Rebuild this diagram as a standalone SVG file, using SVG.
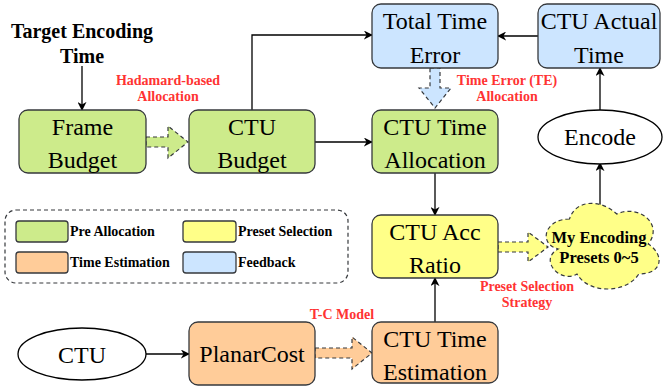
<svg xmlns="http://www.w3.org/2000/svg" width="663" height="392" viewBox="0 0 663 392">
<defs>
<marker id="arr" viewBox="0 0 10 10" refX="9" refY="5" markerWidth="9" markerHeight="9" markerUnits="userSpaceOnUse" orient="auto">
<path d="M0,0 L10,5 L0,10 L3,5 Z" fill="#000"/>
</marker>
</defs>
<style>
text{font-family:'Liberation Serif','DejaVu Serif',serif}
.box{stroke:#36393d;stroke-width:1.3}
.g{fill:#cdeb8b}.b{fill:#cce5ff}.y{fill:#ffff88}.o{fill:#ffcc99}
.n{font-size:24px;fill:#000;text-anchor:middle}
.lbl{font-size:14px;font-weight:bold;fill:#ff3333;text-anchor:middle}
.lg{font-size:14px;font-weight:bold;fill:#000}
.t{font-size:20px;font-weight:bold;fill:#000;text-anchor:middle}
.cl{font-size:16.5px;font-weight:bold;fill:#000;text-anchor:middle}
.blk{stroke:#36393d;stroke-width:1.2;stroke-dasharray:4 3}
.c{fill:none;stroke:#000;stroke-width:1.3;marker-end:url(#arr)}
</style>
<rect width="663" height="392" fill="#fff"/>

<g id="legend">
<rect x="5" y="210" width="343" height="73" rx="11" fill="none" stroke="#36393d" stroke-width="1.2" stroke-dasharray="4 3"/>
<rect class="box g" x="16" y="221" width="52" height="21" rx="3"/>
<text class="lg" x="70" y="236">Pre Allocation</text>
<rect class="box y" x="183" y="221" width="53" height="21" rx="3"/>
<text class="lg" x="238" y="236">Preset Selection</text>
<rect class="box o" x="16" y="252" width="52" height="21" rx="3"/>
<text class="lg" x="70" y="267">Time Estimation</text>
<rect class="box b" x="183" y="252" width="53" height="21" rx="3"/>
<text class="lg" x="238" y="267">Feedback</text>
</g>

<g id="connectors">
<line class="c" x1="82" y1="66" x2="82" y2="110"/>
<polyline class="c" points="252,110 252,35 372,35"/>
<line class="c" x1="315" y1="142" x2="372" y2="142"/>
<line class="c" x1="538" y1="36" x2="498" y2="36"/>
<line class="c" x1="435" y1="173" x2="435" y2="215"/>
<line class="c" x1="435" y1="322" x2="435" y2="278"/>
<line class="c" x1="146" y1="354" x2="189" y2="354"/>
<line class="c" x1="600" y1="110" x2="600" y2="68"/>
<line class="c" x1="600" y1="205" x2="600" y2="163"/>
<polygon class="blk g" points="146,137 168,137 168,126 188,142 168,158 168,147 146,147"/>
<polygon class="blk b" points="430,68 440,68 440,88 451,88 435,108 419,88 430,88"/>
<polygon class="blk y" points="498,242 528,242 528,232 548,247 528,262 528,252 498,252"/>
<polygon class="blk o" points="315,348 352,348 352,337 372,353 352,369 352,358 315,358"/>
<text class="lbl" x="168" y="85">Hadamard-based</text>
<text class="lbl" x="168" y="101">Allocation</text>
<text class="lbl" x="507" y="85">Time Error (TE)</text>
<text class="lbl" x="507" y="101">Allocation</text>
<text class="lbl" x="527" y="291">Preset Selection</text>
<text class="lbl" x="527" y="307">Strategy</text>
<text class="lbl" x="342" y="319">T-C Model</text>
</g>

<g id="target">
<text class="t" x="82" y="38">Target Encoding</text>
<text class="t" x="82" y="63">Time</text>
</g>

<g id="frame-budget">
<rect class="box g" x="19" y="110" width="127" height="63" rx="9"/>
<text class="n" x="82.5" y="135">Frame</text>
<text class="n" x="82.5" y="168">Budget</text>
</g>
<g id="ctu-budget">
<rect class="box g" x="189" y="110" width="126" height="63" rx="9"/>
<text class="n" x="252" y="135">CTU</text>
<text class="n" x="252" y="168">Budget</text>
</g>
<g id="total-time-error">
<rect class="box b" x="372" y="4" width="126" height="64" rx="9"/>
<text class="n" x="435" y="29">Total Time</text>
<text class="n" x="435" y="63">Error</text>
</g>
<g id="ctu-actual-time">
<rect class="box b" x="538" y="4" width="122" height="64" rx="9"/>
<text class="n" x="599" y="29">CTU Actual</text>
<text class="n" x="599" y="63">Time</text>
</g>
<g id="ctu-time-allocation">
<rect class="box g" x="372" y="110" width="126" height="63" rx="9"/>
<text class="n" x="435" y="135">CTU Time</text>
<text class="n" x="435" y="168">Allocation</text>
</g>
<g id="encode">
<ellipse cx="600" cy="137" rx="62" ry="27" fill="#fff" stroke="#000" stroke-width="1.3"/>
<text class="n" x="600" y="145">Encode</text>
</g>
<g id="ctu-acc-ratio">
<rect class="box y" x="372" y="215" width="126" height="63" rx="9"/>
<text class="n" x="435" y="240">CTU Acc</text>
<text class="n" x="435" y="273">Ratio</text>
</g>
<g id="presets">
<path class="blk y" d="M569.5,219 C544.3,219 538,244 558.2,249 C538,260 560.7,284 577,274 C588.4,294 626.2,294 638.8,274 C664,274 664,254 648.25,244 C664,224 638.8,204 616.75,214 C601,199 575.8,199 569.5,219 Z"/>
<text class="cl" x="599" y="243">My Encoding</text>
<text class="cl" x="599" y="263">Presets 0~5</text>
</g>
<g id="ctu">
<ellipse cx="82" cy="354" rx="64" ry="26" fill="#fff" stroke="#000" stroke-width="1.3"/>
<text class="n" x="82" y="363">CTU</text>
</g>
<g id="planarcost">
<rect class="box o" x="189" y="322" width="126" height="63" rx="9"/>
<text class="n" x="252" y="362">PlanarCost</text>
</g>
<g id="ctu-time-estimation">
<rect class="box o" x="372" y="322" width="126" height="61" rx="9"/>
<text class="n" x="435" y="347">CTU Time</text>
<text class="n" x="435" y="380">Estimation</text>
</g>
</svg>
